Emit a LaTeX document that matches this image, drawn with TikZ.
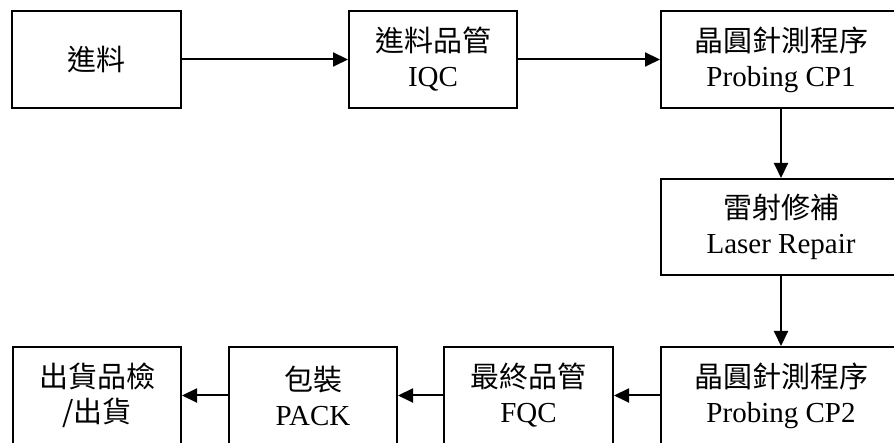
\documentclass[tikz,border=0pt]{standalone}
\usepackage{fontspec}
\setmainfont{Liberation Serif}
\newfontfamily\cjk{Noto Sans CJK TC}
\usetikzlibrary{arrows.meta}
\begin{document}
\begin{tikzpicture}[x=1pt, y=1pt]
				\tikzstyle{Stepbox} = [rectangle, draw, line width=2pt, minimum height=97, inner sep=0pt, align=center, font=\fontsize{29}{35}\selectfont]
				\tikzstyle{Flow} = [line width=2pt, -{Triangle[length=15pt, width=14pt]}]
				\useasboundingbox (0,0) rectangle (894,443);
				\node (feed) at (96.5,383.5) [Stepbox, minimum width=169] {\cjk 進料};
				\node (iqc) at (433,383.5) [Stepbox, minimum width=168] {{\cjk 進料品管}\\IQC};
				\node (cp1) at (781,383.5) [Stepbox, minimum width=240] {{\cjk 晶圓針測程序}\\Probing CP1};
				\node (laser) at (781,216) [Stepbox, minimum width=240, minimum height=96] {{\cjk 雷射修補}\\Laser Repair};
				\node (cp2) at (781,47.5) [Stepbox, minimum width=240] {{\cjk 晶圓針測程序}\\Probing CP2};
				\node (fqc) at (528.5,47.5) [Stepbox, minimum width=169] {{\cjk 最終品管}\\FQC};
				\node (pack) at (313,47.5) [Stepbox, minimum width=168] {{\cjk 包裝}\\PACK};
				\node (ship) at (97,47.5) [Stepbox, minimum width=168] {{\cjk 出貨品檢}\\{\cjk /出貨}};
				\draw [Flow] (feed) to (iqc);
				\draw [Flow] (iqc) to (cp1);
				\draw [Flow] (cp1) to (laser);
				\draw [Flow] (laser) to (cp2);
				\draw [Flow] (cp2) to (fqc);
				\draw [Flow] (fqc) to (pack);
				\draw [Flow] (pack) to (ship);
\end{tikzpicture}
\end{document}
